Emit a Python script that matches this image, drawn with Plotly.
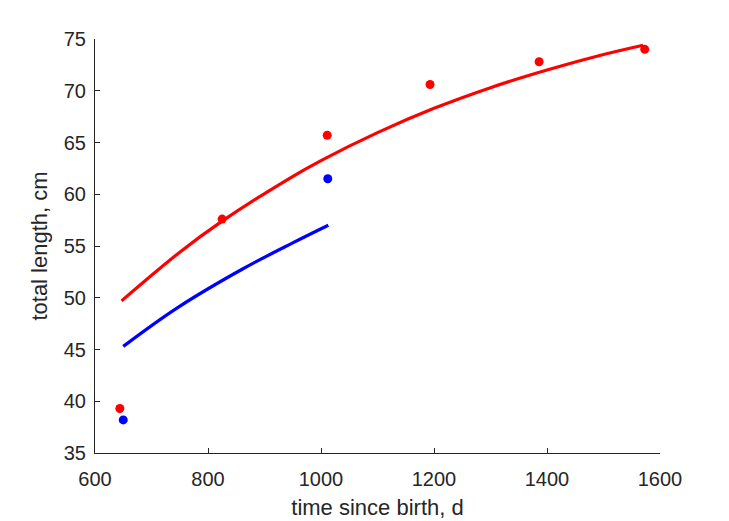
import plotly.graph_objects as go

# observed data points
red_t = [644, 825, 1011, 1193, 1386, 1573]
red_L = [39.3, 57.6, 65.7, 70.6, 72.8, 74.0]
blue_t = [650, 1012]
blue_L = [38.2, 61.5]

# fitted curves
red_fit_t = [647, 750, 825, 940, 1000, 1100, 1200, 1300, 1400, 1500, 1570]
red_fit_L = [49.7, 54.4, 57.4, 61.4, 63.25, 65.95, 68.3, 70.3, 72.0, 73.5, 74.4]
blue_fit_t = [650, 745, 862, 950, 1013]
blue_fit_L = [45.3, 49.0, 52.8, 55.3, 57.0]

x_ticks = [600, 800, 1000, 1200, 1400, 1600]
y_ticks = [35, 40, 45, 50, 55, 60, 65, 70, 75]

FONT = "Liberation Sans, Arial"
TXT = "#262626"

fig = go.Figure()
fig.add_trace(go.Scatter(x=red_fit_t, y=red_fit_L, mode="lines", line=dict(color="#ff0000", width=3.2, shape="spline"), showlegend=False))
fig.add_trace(go.Scatter(x=blue_fit_t, y=blue_fit_L, mode="lines", line=dict(color="#0000ff", width=3.2, shape="spline"), showlegend=False))
fig.add_trace(go.Scatter(x=red_t, y=red_L, mode="markers", marker=dict(color="#ff0000", size=9), showlegend=False))
fig.add_trace(go.Scatter(x=blue_t, y=blue_L, mode="markers", marker=dict(color="#0000ff", size=9), showlegend=False))

axis_common = dict(showline=True, linecolor=TXT, linewidth=1, ticks="inside", ticklen=5,
                   tickcolor=TXT, showgrid=False, zeroline=False, mirror=False,
                   tickfont=dict(family=FONT, size=20, color=TXT))
fig.update_xaxes(range=[600, 1600], tickvals=x_ticks, ticklabelstandoff=8,
                 title=dict(text="time since birth, d", font=dict(family=FONT, size=22, color=TXT), standoff=10),
                 **axis_common)
fig.update_yaxes(range=[35, 75], tickvals=y_ticks, ticklabelstandoff=4,
                 title=dict(text="total length, cm", font=dict(family=FONT, size=22, color=TXT), standoff=10),
                 **axis_common)
fig.update_layout(width=729, height=521, margin=dict(l=95, r=69, t=39, b=68, autoexpand=False),
                  plot_bgcolor="white", paper_bgcolor="white")
fig.write_html("out.html")
